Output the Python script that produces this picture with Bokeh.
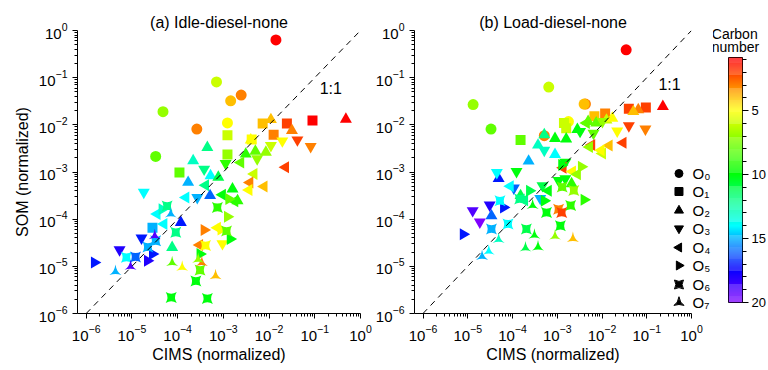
import numpy as np
from math import pi
from bokeh.plotting import figure
from bokeh.models import (Range1d, FixedTicker, Label, LinearAxis, LinearScale,
                          ColumnDataSource, LinearColorMapper, Slope)
from bokeh.layouts import row, column
from bokeh.transform import transform
from bokeh.embed import file_html
from bokeh.resources import INLINE

FONT = "Liberation Sans"

# ---------------- data (log10 of normalized signal) ----------------
# (a) Idle-diesel-none
idle_cims_exp = [
    -1.85, -3.15, -2.61, -2.84, -4.32, -2.91, -3.58, -4.48,
    -1.05, -1.61, -2.14, -1.90, -2.38, -2.91, -2.91, -3.96, -4.55,
    -0.32, -1.96, -1.50, -2.40, -2.07, -2.51, -3.35, -3.66, -3.28, -3.11, -3.77, -3.29, -2.80, -2.69, -3.93, -4.12, -2.30,
    -1.38, -1.09, -1.71, -1.96, -2.26, -3.42, -4.74, -3.57, -5.27, -4.79, -2.95, -3.02,
    -1.64, -2.11, -2.33, -2.42, -2.44, -2.62, -3.39, -3.82, -4.45, -4.30, -3.02, -2.75, -3.52, -3.13,
    -5.82, -3.42, -2.91, -2.88, -2.85, -3.51, -4.66, -4.55, -4.34, -3.05,
    -3.13, -2.93, -3.39, -3.60, -3.51, -4.14, -3.35, -4.04, -4.65, -5.12, -4.92, -4.48, -4.23,
    -3.17, -3.90, -4.12, -5.36, -3.47, -3.55, -4.15, -5.03, -4.50,
]
idle_som_exp = [
    -0.20, -1.09, -1.37, -1.49, -1.72, -1.96, -2.09, -2.67,
    -1.91, -1.97, -1.97, -2.21, -2.31, -2.22, -2.63, -3.01, -4.18,
    -1.88, -1.89, -2.12, -2.32, -2.58, -2.62, -2.48, -2.76, -3.08, -3.11, -3.22, -3.50, -3.36, -3.61, -4.07, -4.60, -2.56,
    -2.32, -2.46, -2.34, -2.44, -2.72, -2.94, -3.43, -3.54, -4.65, -4.40, -2.82, -4.52,
    -2.90, -3.31, -3.04, -3.22, -3.38, -2.80, -3.28, -3.54, -3.89, -4.10, -3.48, -3.62, -4.55, -4.18,
    -4.92, -4.23, -3.95, -3.57, -4.42, -4.74, -4.88, -4.74, -3.79, -4.22,
    -3.75, -4.25, -4.56, -5.31, -5.08, -5.66, -5.68, -4.28, -4.59, -4.81, -4.80, -4.46, -3.72,
    -5.20, -5.02, -4.92, -5.11, -4.92, -4.85, -3.89, -5.00, -4.35,
]
idle_oxygen = [
    0, 0, 0, 0, 0, 0, 0, 0,
    1, 1, 1, 1, 1, 1, 1, 1, 1,
    2, 2, 2, 2, 2, 2, 2, 2, 2, 2, 2, 2, 2, 2, 2, 2, 2,
    3, 3, 3, 3, 3, 3, 3, 3, 3, 3, 3, 3,
    4, 4, 4, 4, 4, 4, 4, 4, 4, 4, 4, 4, 4, 4,
    5, 5, 5, 5, 5, 5, 5, 5, 5, 5,
    6, 6, 6, 6, 6, 6, 6, 6, 6, 6, 6, 6, 6,
    7, 7, 7, 7, 7, 7, 7, 7, 7,
]
idle_carbon = [
    1, 6, 3, 4, 7, 5, 3, 8,
    1, 2, 4, 3, 5, 6, 7, 8, 15,
    1, 4, 3, 5, 7, 9, 12, 13, 14, 11, 15, 16, 10, 9, 17, 12, 8,
    2, 3, 5, 6, 7, 12, 14, 15, 18, 17, 9, 5,
    2, 4, 6, 3, 5, 8, 12, 14, 14, 14, 10, 9, 3, 5,
    17, 3, 7, 8, 10, 10, 18, 17, 13, 5,
    9, 8, 5, 10, 8, 10, 10, 12, 15, 14, 16, 15, 12,
    4, 5, 8, 15, 3, 7, 15, 19, 19,
]

# (b) Load-diesel-none
load_cims_exp = [
    -1.46, -3.19, -4.88, -2.37, -2.40, -4.48, -2.75, -3.29,
    -1.02, -1.40, -1.93, -2.17, -2.85, -2.80, -3.82,
    -0.64, -1.19, -1.30, -3.05, -2.80, -2.31, -3.29, -3.43, -3.64, -3.05, -4.31, -2.55, -1.90, -3.82, -4.47,
    -2.13, -1.77, -2.68,
    -1.40, -1.03, -1.66, -2.49, -2.19, -3.29, -3.91, -4.35, -3.97, -4.89, -4.73, -4.51, -2.82, -3.38,
    -1.99, -2.82, -2.97, -3.33,
    -1.53, -1.84, -1.99, -2.23, -2.28, -2.35, -2.87, -2.66, -2.55, -3.73, -3.20, -4.05, -2.02,
    -5.10, -2.40, -3.29, -2.46, -2.90, -3.62, -4.20,
    -2.93, -3.69, -2.89, -2.63, -2.70, -2.97, -2.90, -3.24, -4.47, -4.28, -3.84, -4.10,
    -2.65, -3.05, -3.43, -3.71, -3.51, -4.31, -4.68, -4.53, -3.55,
]
load_som_exp = [
    -0.41, -1.20, -1.57, -1.56, -1.56, -2.09, -1.93, -2.23,
    -1.63, -1.66, -1.76, -1.82, -1.96, -2.07, -2.32,
    -1.61, -1.68, -1.72, -2.29, -2.30, -1.93, -2.21, -2.43, -2.77, -2.63, -3.14, -2.10, -1.90, -3.50, -3.93,
    -1.96, -1.86, -3.25,
    -2.02, -2.09, -2.13, -2.14, -2.18, -2.54, -2.99, -3.01, -3.34, -3.82, -4.06, -3.70, -2.79, -3.56,
    -1.93, -3.14, -3.18, -3.29,
    -2.38, -2.44, -2.61, -2.43, -2.47, -1.96, -2.91, -2.99, -3.05, -3.60, -3.40, -3.30, -2.54,
    -4.32, -3.59, -3.61, -2.89, -2.85, -3.40, -3.75,
    -4.14, -4.21, -3.32, -3.39, -3.71, -3.79, -3.86, -3.86, -4.21, -3.61, -3.57, -4.10,
    -4.41, -4.36, -4.59, -4.61, -4.34, -4.43, -4.79, -4.68, -3.71,
]
load_oxygen = [
    0, 0, 0, 0, 0, 0, 0, 0,
    1, 1, 1, 1, 1, 1, 1,
    2, 2, 2, 2, 2, 2, 2, 2, 2, 2, 2, 2, 2, 2, 2,
    2, 2, 2,
    3, 3, 3, 3, 3, 3, 3, 3, 3, 3, 3, 3, 3, 3,
    3, 3, 3, 3,
    4, 4, 4, 4, 4, 4, 4, 4, 4, 4, 4, 4, 4,
    5, 5, 5, 5, 5, 5, 5,
    6, 6, 6, 6, 6, 6, 6, 6, 6, 6, 6, 6,
    7, 7, 7, 7, 7, 7, 7, 7, 7,
]
load_carbon = [
    1, 6, 7, 3, 4, 8, 5, 3,
    2, 2, 3, 4, 6, 6, 8,
    1, 3, 4, 10, 10, 8, 12, 13, 15, 14, 17, 10, 6, 11, 16,
    8, 5, 9,
    2, 3, 5, 10, 8, 13, 10, 14, 16, 19, 20, 18, 10, 15,
    7, 10, 10, 11,
    2, 4, 6, 2, 7, 8, 2, 5, 7, 12, 10, 14, 5,
    17, 9, 10, 7, 10, 11, 17,
    10, 11, 8, 7, 9, 3, 2, 10, 15, 14, 12, 14,
    4, 7, 10, 11, 10, 13, 15, 14, 10,
]

oxygen_labels = ["O\u2080", "O\u2081", "O\u2082", "O\u2083", "O\u2084", "O\u2085", "O\u2086", "O\u2087"]
decade_ticks = [1e-6, 1e-5, 1e-4, 1e-3, 1e-2, 1e-1, 1e0]
carbon_ticks = [5, 10, 15, 20]
carbon_minor_ticks = list(range(1, 21))

# ---------------- styling ----------------
oxygen_markers = ["circle", "square", "triangle", "inverted_triangle",
                  "triangle", "triangle", "square_pin", "triangle_pin"]
oxygen_angles = [0, 0, 0, 0, pi / 2, -pi / 2, 0, 0]
oxygen_sizes = [11, 10, 12, 12, 12, 12, 11, 12]
legend_sizes = [8, 8, 9, 9, 9, 9, 9, 10]

# legend key layout (pixel rows of the right panel, measured from its top edge)
legend_rows = [173, 191, 210, 228, 247, 265, 284, 302]
legend_key_x = 10 ** -0.28

anchor_values = [1, 5, 9.8, 14, 17.3, 20]
anchor_colors = ["#ff0000", "#ffff00", "#00ff00", "#00ffff", "#0000ff", "#8000ff"]


def rgb_of(h):
    return [int(h[i:i + 2], 16) for i in (1, 3, 5)]


anchor_rgb = np.array([rgb_of(c) for c in anchor_colors], dtype=float)


def colors_for(vals):
    out = []
    for v in vals:
        r, g, b = [int(round(np.interp(v, anchor_values, anchor_rgb[:, k]))) for k in range(3)]
        out.append("#%02x%02x%02x" % (r, g, b))
    return out


palette = colors_for(np.linspace(1, 20, 191))
mapper = LinearColorMapper(palette=palette, low=1, high=20)


def style_axis(ax):
    ax.ticker = FixedTicker(ticks=decade_ticks,
                            minor_ticks=[m * t for t in decade_ticks[:-1] for m in range(2, 10)])
    ax.major_tick_in = 0
    ax.major_tick_out = 5
    ax.minor_tick_in = 0
    ax.minor_tick_out = 3
    ax.axis_line_color = "black"
    ax.major_tick_line_color = "black"
    ax.minor_tick_line_color = "black"
    ax.major_label_text_font = FONT
    ax.major_label_text_font_size = "15px"
    ax.major_label_text_color = "black"
    ax.axis_label_text_font = FONT
    ax.axis_label_text_font_size = "16px"
    ax.axis_label_text_font_style = "normal"
    ax.axis_label_text_color = "black"


def make_panel(title, cims_exp, som_exp, oxygen, carbon, width, left, right, ylabel, label_pos):
    p = figure(width=width, height=370, x_axis_type="log", y_axis_type="log",
               x_range=Range1d(10 ** -6.19, 1), y_range=Range1d(1e-6, 1),
               min_border_left=left, min_border_right=right,
               min_border_top=30, min_border_bottom=57,
               toolbar_location=None, output_backend="svg", title=title)
    p.title.align = "center"
    p.title.text_font = FONT
    p.title.text_font_size = "16px"
    p.title.text_font_style = "normal"
    p.title.text_color = "black"
    p.title.standoff = 0
    p.outline_line_color = None
    p.xgrid.visible = False
    p.ygrid.visible = False
    style_axis(p.xaxis[0])
    style_axis(p.yaxis[0])
    p.xaxis[0].major_label_standoff = 6
    p.xaxis[0].axis_label_standoff = 2
    p.yaxis[0].major_label_standoff = 5
    p.yaxis[0].axis_label_standoff = 5
    p.xaxis[0].axis_label = "CIMS (normalized)"
    if ylabel:
        p.yaxis[0].axis_label = ylabel

    p.add_layout(Slope(gradient=1, y_intercept=0, line_color="black",
                       line_width=1, line_dash="6 5"))
    p.add_layout(Label(x=label_pos[0], y=label_pos[1], text="1:1", text_font=FONT,
                       text_font_size="16px", text_color="black",
                       text_align="center", text_baseline="middle"))

    for k in range(8):
        idx = [i for i, o in enumerate(oxygen) if o == k]
        src = ColumnDataSource(dict(
            x=[10 ** cims_exp[i] for i in idx],
            y=[10 ** som_exp[i] for i in idx],
            c=[carbon[i] for i in idx]))
        p.scatter("x", "y", source=src, marker=oxygen_markers[k], size=oxygen_sizes[k],
                  angle=oxygen_angles[k], fill_color=transform("c", mapper),
                  line_color=None, fill_alpha=1.0)
    return p


p1 = make_panel("(a) Idle-diesel-none", idle_cims_exp, idle_som_exp, idle_oxygen, idle_carbon,
                width=372, left=77, right=12, ylabel="SOM (normalized)",
                label_pos=(10 ** -0.65, 10 ** -1.22))
p2 = make_panel("(b) Load-diesel-none", load_cims_exp, load_som_exp, load_oxygen, load_carbon,
                width=341, left=38, right=20, ylabel=None,
                label_pos=(10 ** -0.49, 10 ** -1.14))

# ---- oxygen-number key: black markers inside the frame, names as labels of a bare right axis
p2.extra_y_ranges = {"key": Range1d(313, 30)}
p2.extra_y_scales = {"key": LinearScale()}
for k in range(8):
    p2.scatter(x=[legend_key_x], y=[legend_rows[k]], y_range_name="key",
               marker=oxygen_markers[k], angle=oxygen_angles[k], size=legend_sizes[k],
               fill_color="black", line_color="black")
key_axis = LinearAxis(y_range_name="key",
                      ticker=FixedTicker(ticks=legend_rows, minor_ticks=[]),
                      major_label_overrides={r: lab for r, lab in zip(legend_rows, oxygen_labels)})
key_axis.axis_line_color = None
key_axis.major_tick_line_color = None
key_axis.minor_tick_line_color = None
key_axis.major_tick_in = 0
key_axis.major_tick_out = 0
key_axis.major_label_standoff = 1
key_axis.major_label_text_font = FONT
key_axis.major_label_text_font_size = "15px"
key_axis.major_label_text_color = "black"
p2.add_layout(key_axis, "right")

# ---- colour bar for carbon number
p3 = figure(width=55, height=370, x_range=Range1d(0, 1), y_range=Range1d(20, 0.85),
            min_border_left=15, min_border_right=26, min_border_top=57, min_border_bottom=68,
            toolbar_location=None, output_backend="svg", x_axis_location=None,
            y_axis_location="right", title="Carbon\nnumber")
p3.title.align = "center"
p3.title.text_font = FONT
p3.title.text_font_size = "14px"
p3.title.text_font_style = "normal"
p3.title.text_color = "black"
p3.title.text_line_height = 0.85
p3.title.standoff = 4
p3.xgrid.visible = False
p3.ygrid.visible = False
edges = np.linspace(0.85, 20, 241)
p3.quad(left=0, right=1, bottom=edges[:-1], top=edges[1:],
        fill_color=colors_for((edges[:-1] + edges[1:]) / 2), line_color=None)
p3.outline_line_color = "black"
p3.outline_line_width = 1
ax = p3.yaxis[0]
ax.ticker = FixedTicker(ticks=carbon_ticks, minor_ticks=carbon_minor_ticks)
ax.axis_line_color = None
ax.major_tick_in = 0
ax.major_tick_out = 6
ax.minor_tick_in = 0
ax.minor_tick_out = 4
ax.major_label_standoff = 3
ax.major_label_text_font = FONT
ax.major_label_text_font_size = "13px"
ax.major_label_text_color = "black"

layout = row(p1, p2, column(p3))
open("out.html", "w").write(file_html(layout, INLINE))
